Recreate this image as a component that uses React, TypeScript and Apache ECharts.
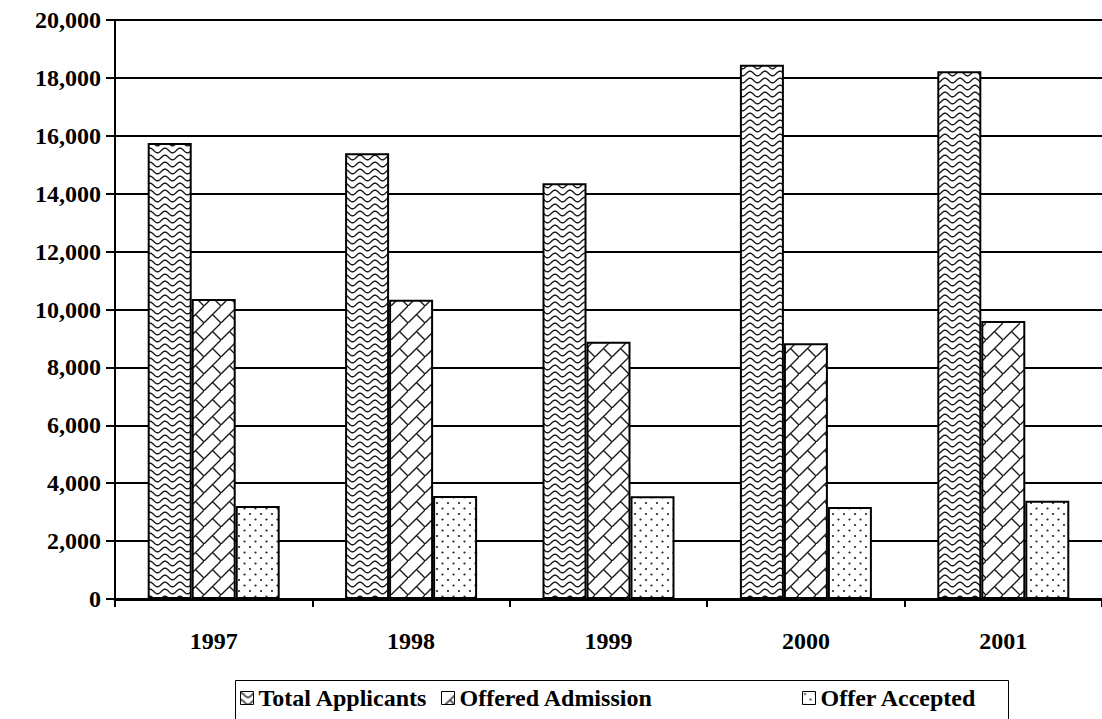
import React, { useEffect, useRef } from 'react';
import * as echarts from 'echarts';

const years = ['1997', '1998', '1999', '2000', '2001'];
const seriesNames = ['Total Applicants', 'Offered Admission', 'Offer Accepted'];
const totalApplicants = [15750, 15400, 14360, 18450, 18230];
const offeredAdmission = [10360, 10340, 8890, 8830, 9600];
const offerAccepted = [3210, 3560, 3550, 3180, 3390];

const FONT = 'Liberation Serif';

function makePattern(w: number, h: number, draw: (ctx: CanvasRenderingContext2D) => void) {
  const c = document.createElement('canvas');
  c.width = w;
  c.height = h;
  const ctx = c.getContext('2d') as CanvasRenderingContext2D;
  ctx.fillStyle = '#ffffff';
  ctx.fillRect(0, 0, w, h);
  draw(ctx);
  return { image: c.toDataURL(), repeat: 'repeat', imageWidth: w, imageHeight: h } as any;
}

function wavePattern() {
  return makePattern(15, 7, (ctx) => {
    ctx.strokeStyle = '#1a1a1a';
    ctx.lineWidth = 1.4;
    ctx.beginPath();
    for (let x = -1; x <= 16; x += 0.5) {
      const y = 3.5 - 2.3 * Math.cos((2 * Math.PI * x) / 15);
      if (x === -1) ctx.moveTo(x, y);
      else ctx.lineTo(x, y);
    }
    ctx.stroke();
  });
}

function brickPattern() {
  return makePattern(17, 17, (ctx) => {
    ctx.strokeStyle = '#1a1a1a';
    ctx.lineWidth = 1.4;
    ctx.beginPath();
    ctx.moveTo(-2, 19);
    ctx.lineTo(19, -2);
    ctx.moveTo(8.5, 8.5);
    ctx.lineTo(17, 17);
    ctx.stroke();
  });
}

function dotPattern() {
  return makePattern(11, 11, (ctx) => {
    ctx.fillStyle = '#222222';
    ctx.beginPath();
    ctx.arc(2.5, 2.5, 1.1, 0, Math.PI * 2);
    ctx.fill();
    ctx.beginPath();
    ctx.arc(8, 8, 1.1, 0, Math.PI * 2);
    ctx.fill();
  });
}

export default function App() {
  const ref = useRef<HTMLDivElement>(null);

  useEffect(() => {
    if (!ref.current) return;
    const chart = echarts.init(ref.current, undefined, { renderer: 'svg' });
    const patterns = [wavePattern(), brickPattern(), dotPattern()];
    const dataSets = [totalApplicants, offeredAdmission, offerAccepted];

    const legendCommon = {
      top: 686,
      padding: 0,
      itemGap: 0,
      itemWidth: 13,
      itemHeight: 13,
      icon: 'rect',
      itemStyle: { borderColor: '#000', borderWidth: 1 },
      textStyle: { fontFamily: FONT, fontWeight: 'bold', fontSize: 24, color: '#000' },
    };

    chart.setOption({
      animation: false,
      backgroundColor: '#ffffff',
      grid: { left: 115, top: 20, bottom: 120, right: -9, containLabel: false },
      legend: [
        { ...legendCommon, data: [seriesNames[0]], left: 240 },
        { ...legendCommon, data: [seriesNames[1]], left: 441 },
        { ...legendCommon, data: [seriesNames[2]], left: 802 },
      ],
      graphic: [
        {
          type: 'rect',
          left: 233,
          top: 678,
          shape: { width: 773, height: 60 },
          style: { fill: 'none', stroke: '#000', lineWidth: 1 },
        },
      ],
      xAxis: {
        type: 'category',
        data: years,
        axisLine: { show: true, lineStyle: { color: '#000', width: 3 } },
        axisTick: { show: true, length: 8, lineStyle: { color: '#000', width: 2 } },
        axisLabel: {
          margin: 30,
          fontFamily: FONT,
          fontWeight: 'bold',
          fontSize: 24,
          color: '#000',
        },
      },
      yAxis: {
        type: 'value',
        min: 0,
        max: 20000,
        interval: 2000,
        axisLine: { show: true, lineStyle: { color: '#000', width: 2 } },
        axisTick: { show: true, length: 9, lineStyle: { color: '#000', width: 2 } },
        splitLine: { show: true, lineStyle: { color: '#000', width: 2 } },
        axisLabel: {
          margin: 14,
          fontFamily: FONT,
          fontWeight: 'bold',
          fontSize: 24,
          color: '#000',
          formatter: (v: number) => v.toLocaleString('en-US'),
        },
      },
      series: seriesNames.map((name, i) => ({
        name,
        type: 'bar',
        data: dataSets[i],
        barWidth: 44,
        barGap: '0%',
        itemStyle: { color: patterns[i], borderColor: '#000', borderWidth: 2 },
        emphasis: { disabled: true },
      })),
    });

    return () => chart.dispose();
  }, []);

  return (
    <div
      ref={ref}
      style={{ position: 'fixed', left: 0, top: 0, width: 1102, height: 719, background: '#fff' }}
    />
  );
}
